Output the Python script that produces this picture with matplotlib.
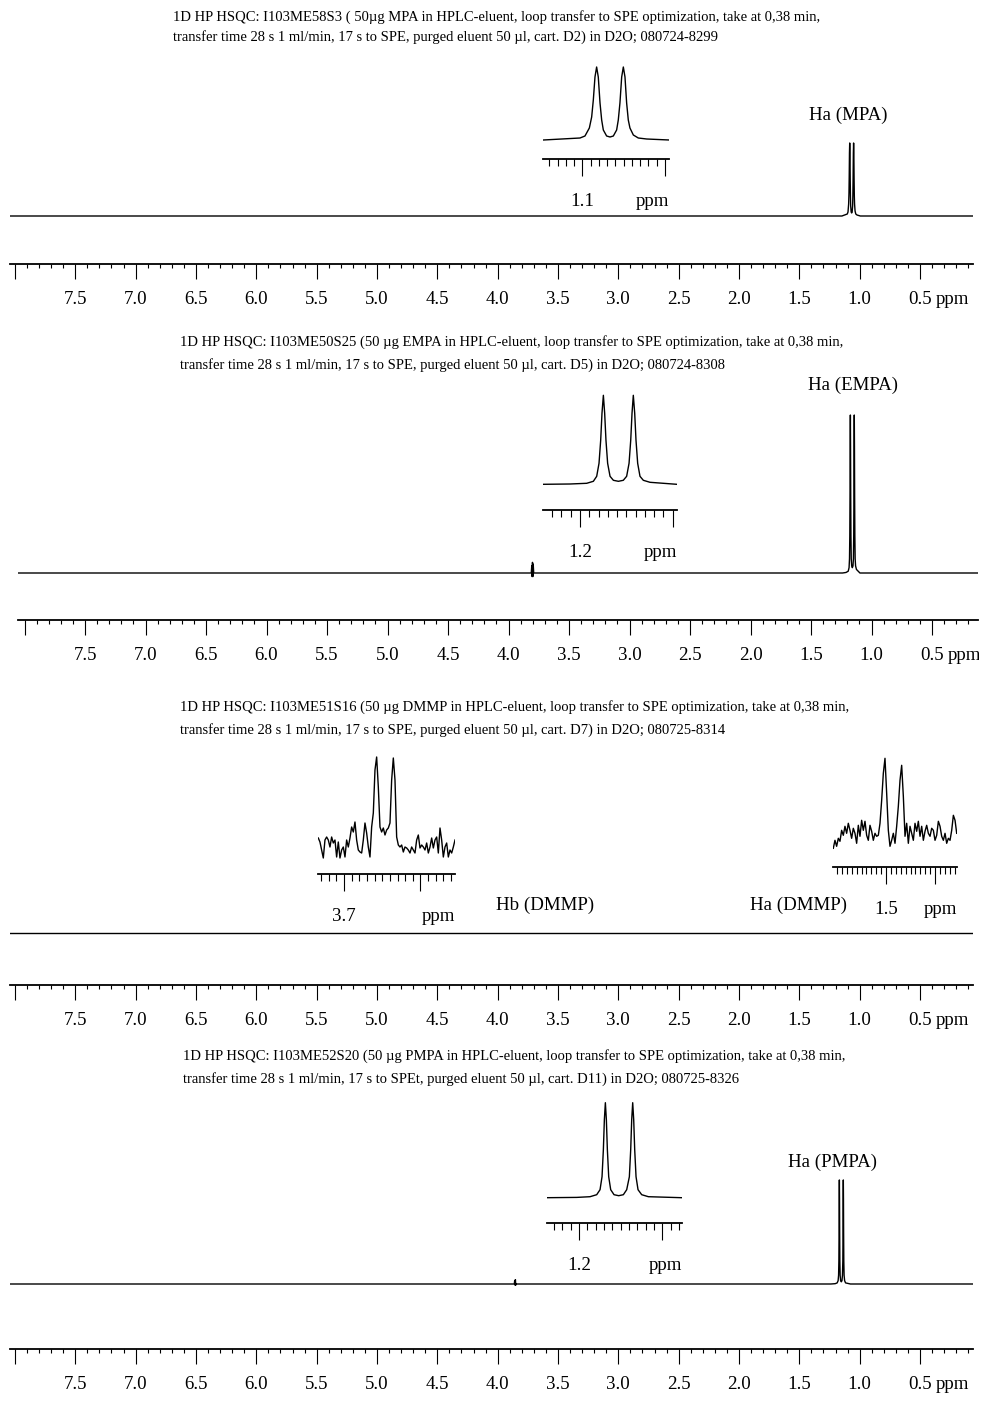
import numpy as np
import matplotlib
matplotlib.use("Agg")
import matplotlib.pyplot as plt
from matplotlib.ticker import MultipleLocator, FixedLocator, FixedFormatter
from matplotlib.transforms import Bbox, TransformedBbox, blended_transform_factory

W, H = 991, 1403
plt.rcParams["font.family"] = ["Liberation Serif", "DejaVu Serif"]

titles = [
    ("1D HP HSQC: I103ME58S3 ( 50\u00b5g MPA in HPLC-eluent, loop transfer to SPE optimization, take at 0,38 min,",
     "transfer time 28 s 1 ml/min, 17 s to SPE, purged eluent 50 \u00b5l, cart. D2) in D2O; 080724-8299"),
    ("1D HP HSQC: I103ME50S25 (50 \u00b5g EMPA in HPLC-eluent, loop transfer to SPE optimization, take at 0,38 min,",
     "transfer time 28 s 1 ml/min, 17 s to SPE, purged eluent 50 \u00b5l, cart. D5) in D2O; 080724-8308"),
    ("1D HP HSQC: I103ME51S16 (50 \u00b5g DMMP in HPLC-eluent, loop transfer to SPE optimization, take at 0,38 min,",
     "transfer time 28 s 1 ml/min, 17 s to SPE, purged eluent 50 \u00b5l, cart. D7) in D2O; 080725-8314"),
    ("1D HP HSQC: I103ME52S20 (50 \u00b5g PMPA in HPLC-eluent, loop transfer to SPE optimization, take at 0,38 min,",
     "transfer time 28 s 1 ml/min, 17 s to SPEt, purged eluent 50 \u00b5l, cart. D11) in D2O; 080725-8326"),
]

# full ppm scale
main_major = [8.0, 7.5, 7.0, 6.5, 6.0, 5.5, 5.0, 4.5, 4.0, 3.5, 3.0, 2.5, 2.0, 1.5, 1.0, 0.5]
main_labels = ["", "7.5", "7.0", "6.5", "6.0", "5.5", "5.0", "4.5", "4.0", "3.5", "3.0", "2.5", "2.0", "1.5", "1.0", "0.5"]
baseline_ppm = [8.1, 0.0]

# MPA doublet (Ha)
mpa_ppm = [1.1472, 1.1028, 1.0968, 1.0915, 1.0887, 1.0867, 1.0847, 1.0827, 1.0807, 1.0786,
           1.0766, 1.0746, 1.0706, 1.0665, 1.0625, 1.0585, 1.0565, 1.0545, 1.0524, 1.0504,
           1.0484, 1.0464, 1.0444, 1.0424, 1.0383, 1.0323, 1.0222, 0.9948]
mpa_int = [0, 2, 4, 12, 23, 40, 63, 73, 63, 37, 20, 10, 4, 3, 4, 10, 20, 37, 63, 73,
           63, 37, 20, 12, 5, 2, 1, 0]

# EMPA doublet (Ha) and small signal near 3.8 ppm
empa_ppm = [1.2396, 1.2108, 1.1928, 1.1856, 1.1820, 1.1795, 1.1777, 1.1763, 1.1748, 1.1734,
            1.1720, 1.1702, 1.1676, 1.1640, 1.1586, 1.1533, 1.1497, 1.1471, 1.1453, 1.1439,
            1.1425, 1.1410, 1.1396, 1.1378, 1.1353, 1.1317, 1.1245, 1.1101, 1.0957]
empa_int = [0, 0.3, 1, 3, 8, 21, 44, 71, 89, 71, 44, 21, 8, 4, 3, 4, 8, 21, 44, 71,
            89, 71, 44, 21, 8, 4, 2, 1, 0]
empa_blip_ppm = [3.812, 3.808, 3.805, 3.802, 3.799, 3.796, 3.792]
empa_blip_int = [0, 4, -2, 6, -2, 5, 0]

# DMMP, Hb region (3.73 - 3.55 ppm) and Ha region (1.61 - 1.36 ppm), noisy traces
dmmp_hb_range = (3.7336, 3.5549)
dmmp_hb_int = [22, 18, 10, 2, 20, 23, 20, 13, 23, 17,
               20, 3, 18, 2, 10, 13, 3, 20, 13, 22,
               33, 28, 38, 20, 10, 8, 7, 20, 37, 27,
               13, 3, 33, 47, 90, 103, 73, 33, 28, 32,
               25, 30, 32, 37, 80, 102, 80, 23, 15, 13,
               15, 8, 13, 12, 10, 7, 13, 10, 7, 20,
               25, 12, 15, 13, 10, 17, 7, 13, 22, 12,
               20, 23, 7, 32, 20, 3, 13, 17, 3, 10,
               7, 13, 20]
dmmp_ha_range = (1.6076, 1.3557)
dmmp_ha_int = [5, 13, 7, 15, 12, 23, 18, 27, 20, 30,
               23, 15, 25, 20, 10, 28, 17, 33, 23, 32,
               18, 13, 28, 22, 13, 20, 17, 18, 30, 53,
               80, 95, 60, 23, 7, 13, 20, 10, 27, 47,
               73, 88, 57, 17, 30, 10, 27, 20, 13, 30,
               22, 32, 17, 27, 13, 22, 28, 20, 17, 25,
               23, 13, 18, 32, 27, 17, 13, 20, 10, 15,
               13, 23, 38, 33, 20]

# PMPA doublet (Ha) and small signal near 3.85 ppm
pmpa_ppm = [1.2388, 1.2028, 1.1868, 1.1788, 1.1748, 1.1724, 1.1708, 1.1696, 1.1684, 1.1672,
            1.1660, 1.1644, 1.1620, 1.1580, 1.1524, 1.1468, 1.1428, 1.1396, 1.1380, 1.1368,
            1.1356, 1.1344, 1.1332, 1.1316, 1.1292, 1.1248, 1.1168, 1.0768]
pmpa_int = [0, 0.3, 1, 3, 8, 21, 48, 78, 95, 78, 48, 21, 8, 3, 2, 3, 8, 21, 48, 78,
            95, 78, 48, 21, 8, 3, 1, 0]
pmpa_blip_ppm = [3.862, 3.859, 3.856, 3.853, 3.850, 3.847]
pmpa_blip_int = [0, 3, -1, 4, -1, 0]

TITLE_FS = 10.5
LABEL_FS = 13.6
MAIN_PAD = 8.5
INSET_PAD = 12.0


def px_axes(fig, x0, y0, x1, y1):
    ax = fig.add_axes([x0 / W, 1 - y1 / H, (x1 - x0) / W, (y1 - y0) / H])
    ax.patch.set_visible(False)
    for s in ["top", "left", "right"]:
        ax.spines[s].set_visible(False)
    ax.set_yticks([])
    return ax


def ppm_scale(ax, xlim, majors, labels, minor, major_len, minor_len, pad, lw):
    ax.set_xlim(*xlim)
    ax.spines["bottom"].set_linewidth(lw)
    ax.xaxis.set_major_locator(FixedLocator(majors))
    ax.xaxis.set_major_formatter(FixedFormatter(labels))
    ax.xaxis.set_minor_locator(MultipleLocator(minor))
    ax.tick_params(axis="x", which="major", direction="out", length=major_len, width=0.8,
                   pad=pad, labelsize=LABEL_FS)
    ax.tick_params(axis="x", which="minor", direction="out", length=minor_len, width=0.8)


def ppm_word(ax, x, dx, drop, ha):
    tr = blended_transform_factory(ax.transData, ax.transAxes)
    return ax.annotate("ppm", xy=(x, 0), xycoords=tr, xytext=(dx, -drop),
                       textcoords="offset points", ha=ha, va="top", fontsize=LABEL_FS,
                       annotation_clip=False)


def main_panel(fig, x0, x1, xlim, axis_y, base_y, scale, ppm, inten):
    top = base_y - 200
    ax = px_axes(fig, x0, top, x1, axis_y)
    ax.set_ylim(-(axis_y - base_y) / scale, (base_y - top) / scale)
    ax.plot(ppm, inten, color="black", lw=1.0)
    ppm_scale(ax, xlim, main_major, main_labels, 0.1, 10.8, 3.2, MAIN_PAD, 1.3)
    ppm_word(ax, 0.5, 11, 10.8 + MAIN_PAD, "left")
    return ax


def inset(fig, x0, x1, xlim, axis_y, base_y, ppm, inten, majors, labels):
    top = base_y - 115
    ax = px_axes(fig, x0, top, x1, axis_y)
    ax.set_ylim(-(axis_y - base_y), base_y - top)
    ax.plot(ppm, inten, color="black", lw=1.0)
    ppm_scale(ax, xlim, majors, labels, 0.01, 12.2, 5.0, INSET_PAD, 1.3)
    ppm_word(ax, xlim[1], 0, 12.2 + INSET_PAD, "right")
    return ax


def fig_text(fig, x, y, s, fs, ha="left"):
    fig.text(x / W, 1 - y / H, s, fontsize=fs, ha=ha, va="center")


def main():
    fig = plt.figure(figsize=(W / 100, H / 100), dpi=100)

    title_pos = [(173, 17, 37), (180, 342, 365), (180, 707, 730), (183, 1056, 1079)]
    for (l1, l2), (tx, y1, y2) in zip(titles, title_pos):
        fig_text(fig, tx, y1, l1, TITLE_FS)
        fig_text(fig, tx, y2, l2, TITLE_FS)

    # MPA
    main_panel(fig, 10, 973, (8.041, 0.061), 264, 216, 1.0,
               [baseline_ppm[0]] + mpa_ppm + [baseline_ppm[1]], [0] + mpa_int + [0])
    inset(fig, 543.3, 669.3, (1.1472, 0.9948), 159, 140, mpa_ppm, mpa_int, [1.1, 1.0], ["1.1", ""])
    fig_text(fig, 848, 115, "Ha (MPA)", LABEL_FS, "center")

    # EMPA
    ax2 = main_panel(fig, 18, 978, (8.054, 0.120), 620, 573, 1.775,
                     [baseline_ppm[0]] + empa_blip_ppm + empa_ppm + [baseline_ppm[1]],
                     [0] + empa_blip_int + empa_int + [0])
    inset(fig, 543.3, 676.7, (1.2396, 1.0957), 510, 484.3, empa_ppm, empa_int, [1.2, 1.1], ["1.2", ""])
    fig_text(fig, 853, 385, "Ha (EMPA)", LABEL_FS, "center")
    # the original scan cuts this panel's "ppm" at the right edge
    clip = TransformedBbox(Bbox([[0, 0], [979 / W, 1]]), fig.transFigure)
    for t in ax2.texts:
        t.set_clip_box(clip)
        t.set_clip_on(True)

    # DMMP
    main_panel(fig, 10, 973, (8.041, 0.061), 985, 933, 1.0, baseline_ppm, [0, 0])
    hb_ppm = np.linspace(dmmp_hb_range[0], dmmp_hb_range[1], len(dmmp_hb_int))
    ha_ppm = np.linspace(dmmp_ha_range[0], dmmp_ha_range[1], len(dmmp_ha_int))
    inset(fig, 318.3, 455, dmmp_hb_range, 874, 860, hb_ppm, dmmp_hb_int, [3.7, 3.6], ["3.7", ""])
    inset(fig, 833.3, 956.7, dmmp_ha_range, 867, 853.3, ha_ppm, dmmp_ha_int, [1.5, 1.4], ["1.5", ""])
    fig_text(fig, 545, 905, "Hb (DMMP)", LABEL_FS, "center")
    fig_text(fig, 798, 905, "Ha (DMMP)", LABEL_FS, "center")

    # PMPA
    main_panel(fig, 10, 973, (8.041, 0.061), 1349, 1284, 1.095,
               [baseline_ppm[0]] + pmpa_blip_ppm + pmpa_ppm + [baseline_ppm[1]],
               [0] + pmpa_blip_int + pmpa_int + [0])
    inset(fig, 546.7, 681.7, (1.2388, 1.0768), 1223.3, 1197.7, pmpa_ppm, pmpa_int, [1.2, 1.1], ["1.2", ""])
    fig_text(fig, 833, 1162, "Ha (PMPA)", LABEL_FS, "center")

    fig.savefig("out.png", dpi=100)


if __name__ == "__main__":
    main()
